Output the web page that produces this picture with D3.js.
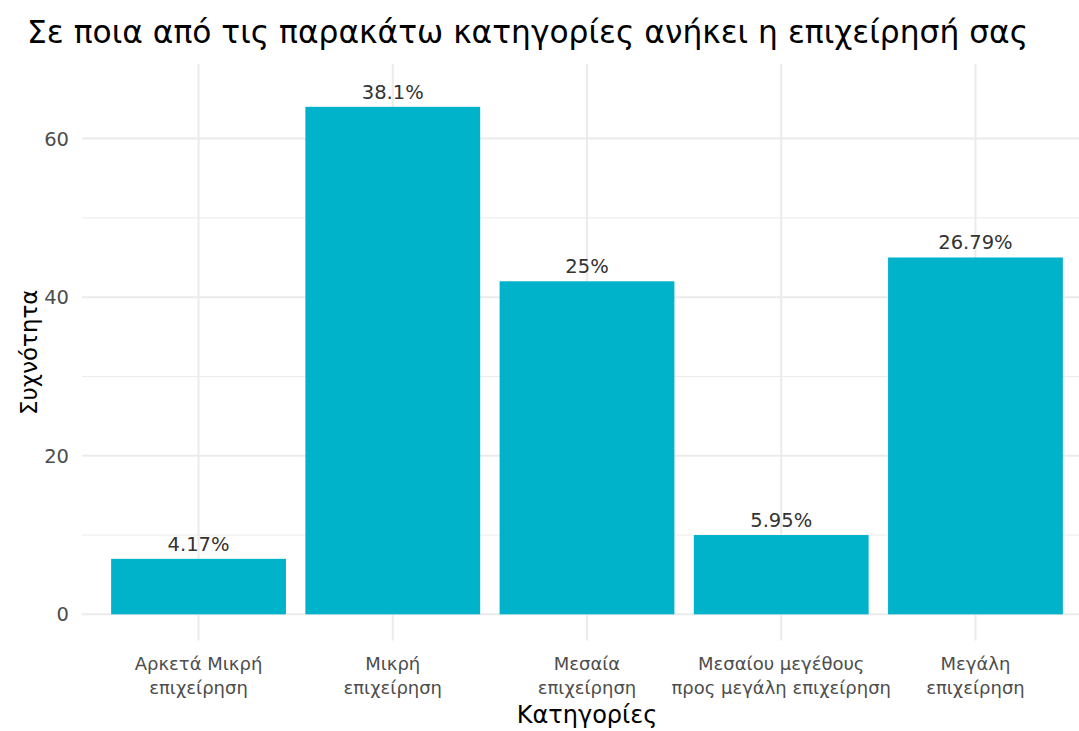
<!DOCTYPE html>
<html>
<head>
<meta charset="utf-8">
<script src="https://cdn.jsdelivr.net/npm/d3@7"></script>
<style>
  html, body { margin: 0; padding: 0; background: #fff; }
  svg { display: block; font-family: "DejaVu Sans", sans-serif; }
</style>
</head>
<body>
<svg id="chart" width="1079" height="731"></svg>
<script>
const categories = [
  ["Αρκετά Μικρή", "επιχείρηση"],
  ["Μικρή", "επιχείρηση"],
  ["Μεσαία", "επιχείρηση"],
  ["Μεσαίου μεγέθους", "προς μεγάλη επιχείρηση"],
  ["Μεγάλη", "επιχείρηση"]
];
const counts = [7, 64, 42, 10, 45];
const percentLabels = ["4.17%", "38.1%", "25%", "5.95%", "26.79%"];
const yTicks = [0, 20, 40, 60];
const yMinorTicks = [10, 30, 50];
const titleText = "Σε ποια από τις παρακάτω κατηγορίες ανήκει η επιχείρησή σας";
const xTitle = "Κατηγορίες";
const yTitle = "Συχνότητα";

const svg = d3.select("#chart");
const panel = { left: 82, right: 1092, top: 64, bottom: 640.5 };

const keys = categories.map((d, i) => i);
// ggplot-like discrete axis: 0.6 units expansion each side, bar width 0.9
const x = d3.scaleLinear()
  .domain([-0.6, categories.length - 1 + 0.6])
  .range([panel.left, panel.right]);
const barW = 0.9 * (x(1) - x(0));

const y = d3.scaleLinear().domain([-3.3, 69.4]).range([panel.bottom, panel.top]);

const g = svg.append("g");

g.selectAll(".minor").data(yMinorTicks).enter().append("line")
  .attr("x1", panel.left).attr("x2", panel.right)
  .attr("y1", d => y(d)).attr("y2", d => y(d))
  .attr("stroke", "#ebebeb").attr("stroke-width", 1);
g.selectAll(".major").data(yTicks).enter().append("line")
  .attr("x1", panel.left).attr("x2", panel.right)
  .attr("y1", d => y(d)).attr("y2", d => y(d))
  .attr("stroke", "#ebebeb").attr("stroke-width", 2);
g.selectAll(".vgrid").data(keys).enter().append("line")
  .attr("x1", d => x(d)).attr("x2", d => x(d))
  .attr("y1", panel.top).attr("y2", panel.bottom)
  .attr("stroke", "#ebebeb").attr("stroke-width", 2);

g.selectAll(".bar").data(counts).enter().append("rect")
  .attr("x", (d, i) => x(i) - barW / 2)
  .attr("width", barW)
  .attr("y", d => y(d))
  .attr("height", d => y(0) - y(d))
  .attr("fill", "#00b3cb");

g.selectAll(".lab").data(counts).enter().append("text")
  .attr("x", (d, i) => x(i))
  .attr("y", d => y(d) - 8)
  .attr("text-anchor", "middle")
  .attr("font-size", 19.5)
  .attr("fill", "#333333")
  .text((d, i) => percentLabels[i]);

g.selectAll(".yt").data(yTicks).enter().append("text")
  .attr("x", 69)
  .attr("y", d => y(d))
  .attr("dy", "0.36em")
  .attr("text-anchor", "end")
  .attr("font-size", 19.5)
  .attr("fill", "#4d4d4d")
  .text(d => d);

const xt = g.selectAll(".xt").data(categories).enter().append("text")
  .attr("text-anchor", "middle")
  .attr("font-size", 18)
  .attr("fill", "#4d4d4d");
xt.each(function(d, i) {
  const t = d3.select(this);
  d.forEach((line, j) => {
    t.append("tspan")
      .attr("x", x(i))
      .attr("y", 670 + j * 24)
      .text(line);
  });
});

svg.append("text")
  .attr("x", (panel.left + panel.right) / 2)
  .attr("y", 723)
  .attr("text-anchor", "middle")
  .attr("font-size", 24)
  .attr("fill", "#000")
  .text(xTitle);

svg.append("text")
  .attr("transform", `translate(37, ${(panel.top + panel.bottom) / 2}) rotate(-90)`)
  .attr("text-anchor", "middle")
  .attr("font-size", 23)
  .attr("fill", "#000")
  .text(yTitle);

svg.append("text")
  .attr("x", 27)
  .attr("y", 43)
  .attr("font-size", 31.3)
  .attr("fill", "#000")
  .text(titleText);
</script>
</body>
</html>
